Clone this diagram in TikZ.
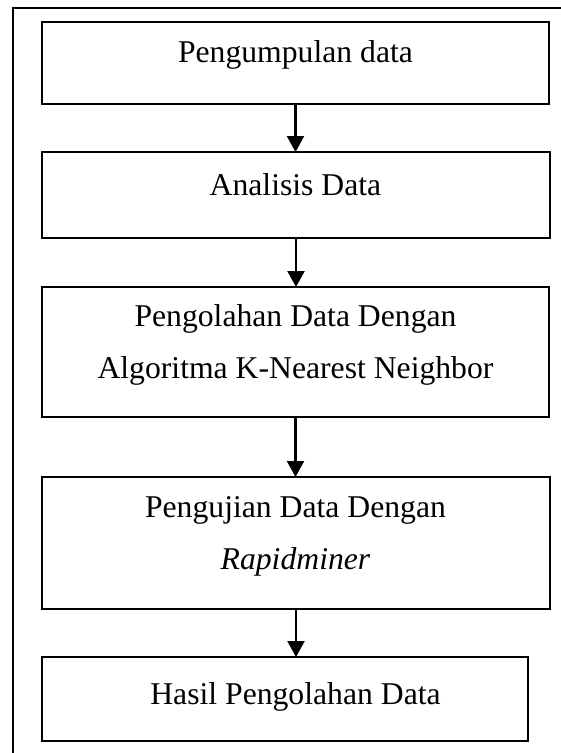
\documentclass[tikz,border=0pt]{standalone}
\usepackage{fontspec}
\setmainfont{Liberation Serif}
\usetikzlibrary{arrows.meta}
\begin{document}
\begin{tikzpicture}[x=1bp,y=-1bp,
  stepbox/.style={draw=black,line width=2bp,inner sep=0,outer sep=0,rectangle},
  lbl/.style={anchor=base,inner sep=0,font=\fontsize{31.8}{53}\selectfont},
  arr/.style={line width=2.2bp,-{Triangle[width=17bp,length=16bp]}},
  frame/.style={draw=black,line width=2bp}]
\useasboundingbox (0,0) rectangle (561,753);
\clip (0,0) rectangle (561,753);
\fill[white] (0,0) rectangle (561,753);
\draw[frame] (12.5,8) rectangle (580,780);
\node[stepbox,minimum width=507bp,minimum height=82bp] (b1) at (295.5,63) {};
\node[stepbox,minimum width=508bp,minimum height=86bp] (b2) at (296,195) {};
\node[stepbox,minimum width=507bp,minimum height=130bp] (b3) at (295.5,352) {};
\node[stepbox,minimum width=508bp,minimum height=132bp] (b4) at (296,543) {};
\node[stepbox,minimum width=486bp,minimum height=84bp] (b5) at (285,699) {};
\node[lbl] (t1) at (295.5,63) {Pengumpulan data};
\node[lbl] (t2) at (295.5,195) {Analisis Data};
\node[lbl] (t3a) at (295.5,326) {Pengolahan Data Dengan};
\node[lbl] (t3b) at (295.5,378) {Algoritma K-Nearest Neighbor};
\node[lbl] (t4a) at (295.5,517) {Pengujian Data Dengan};
\node[lbl] (t4b) at (295.5,569) {\itshape Rapidminer};
\node[lbl] (t5) at (295.5,704) {Hasil Pengolahan Data};
\draw[arr] (b1.south) -- (b1.south |- b2.north);
\draw[arr] (b2.south) -- (b2.south |- b3.north);
\draw[arr] (b3.south) -- (b3.south |- b4.north);
\draw[arr] (b4.south) -- (b4.south |- b5.north);
\end{tikzpicture}
\end{document}
